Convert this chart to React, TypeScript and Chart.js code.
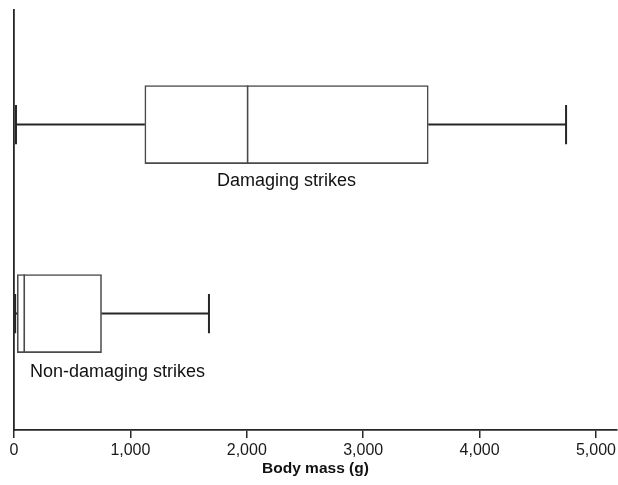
import React, { useEffect, useRef } from "react";
import { Chart, registerables } from "chart.js";

Chart.register(...registerables);

const categories = ["Damaging strikes", "Non-damaging strikes"];
const mins = [17, 10];
const q1s = [1124, 28];
const medians = [2007, 88];
const q3s = [3559, 752];
const maxs = [4743, 1675];
const xTicks = [0, 1000, 2000, 3000, 4000, 5000];
const xTitle = "Body mass (g)";

const FONT = "'Liberation Sans', Arial, Helvetica, sans-serif";
const LINE = "#262626";
const BOX = "#4a4a4a";

const boxPlotPlugin = {
  id: "boxPlotExtras",
  afterDatasetsDraw(chart: any) {
    const { ctx, scales } = chart;
    const xs = scales.x;
    const ys = scales.y;
    ctx.save();
    categories.forEach((cat, i) => {
      const yc = ys.getPixelForValue(i);
      const capTop = ys.getPixelForValue(i - 0.104);
      const capBot = ys.getPixelForValue(i + 0.104);
      const boxTop = ys.getPixelForValue(i - 0.207);
      const boxBot = ys.getPixelForValue(i + 0.207);
      const pMin = xs.getPixelForValue(mins[i]);
      const pQ1 = xs.getPixelForValue(q1s[i]);
      const pMed = xs.getPixelForValue(medians[i]);
      const pQ3 = xs.getPixelForValue(q3s[i]);
      const pMax = xs.getPixelForValue(maxs[i]);
      // whiskers
      ctx.strokeStyle = LINE;
      ctx.lineWidth = 2;
      ctx.beginPath();
      ctx.moveTo(pMin, yc);
      ctx.lineTo(pQ1, yc);
      ctx.moveTo(pQ3, yc);
      ctx.lineTo(pMax, yc);
      ctx.stroke();
      // caps
      ctx.beginPath();
      ctx.moveTo(pMin, capTop);
      ctx.lineTo(pMin, capBot);
      ctx.moveTo(pMax, capTop);
      ctx.lineTo(pMax, capBot);
      ctx.stroke();
      // median
      ctx.strokeStyle = BOX;
      ctx.lineWidth = 1.6;
      ctx.beginPath();
      ctx.moveTo(pMed, boxTop);
      ctx.lineTo(pMed, boxBot);
      ctx.stroke();
      // label
      ctx.fillStyle = "#111";
      ctx.font = `18px ${FONT}`;
      ctx.textBaseline = "middle";
      if (i === 0) {
        ctx.textAlign = "center";
        ctx.fillText(cat, (pQ1 + pQ3) / 2, boxBot + 17);
      } else {
        ctx.textAlign = "left";
        ctx.fillText(cat, xs.left + 16, boxBot + 19);
      }
    });
    ctx.restore();
  },
};

export default function App() {
  const ref = useRef<HTMLCanvasElement | null>(null);
  useEffect(() => {
    if (!ref.current) return;
    const chart = new Chart(ref.current, {
      type: "bar",
      data: {
        datasets: [
          {
            label: "IQR",
            data: categories.map((_, i) => ({ x: [q1s[i], q3s[i]], y: i })) as any,
            backgroundColor: "#ffffff",
            borderColor: BOX,
            borderWidth: 1.6,
            borderSkipped: false,
            barThickness: 78,
          } as any,
        ],
      },
      options: {
        animation: false,
        responsive: false,
        indexAxis: "y",
        layout: { padding: { left: 14, top: 10, right: 0, bottom: 2 } },
        plugins: {
          legend: { display: false },
          tooltip: { enabled: false },
        },
        scales: {
          x: {
            type: "linear",
            min: 0,
            max: 5180,
            afterBuildTicks: (s: any) => {
              s.ticks = xTicks.map((v) => ({ value: v }));
            },
            afterFit: (s: any) => {
              s.height = 53;
            },
            grid: {
              drawOnChartArea: false,
              drawTicks: true,
              tickLength: 8,
              color: LINE,
              lineWidth: 1.5,
            },
            border: { display: true, color: LINE, width: 1.8 },
            ticks: {
              color: "#1a1a1a",
              font: { family: FONT, size: 16, lineHeight: 1.35 },
              padding: 2,
              maxRotation: 0,
              callback: (v: any) => Number(v).toLocaleString("en-US"),
            },
            title: {
              display: true,
              text: xTitle,
              color: "#111",
              font: { family: FONT, size: 15.5, weight: "bold" },
              padding: { top: 1, bottom: 5 },
            },
          },
          y: {
            type: "linear",
            reverse: true,
            offset: false,
            min: -0.606,
            max: 1.616,
            afterFit: (s: any) => {
              s.width = 0;
            },
            grid: { display: false, offset: false },
            border: { display: true, color: LINE, width: 1.8 },
            ticks: { display: false },
          },
        },
      },
      plugins: [boxPlotPlugin],
    });
    return () => chart.destroy();
  }, []);
  return (
    <div style={{ position: "fixed", left: 0, top: 0, width: 618, height: 485, background: "#fff" }}>
      <canvas ref={ref} width={618} height={485} style={{ width: 618, height: 485 }} />
    </div>
  );
}
